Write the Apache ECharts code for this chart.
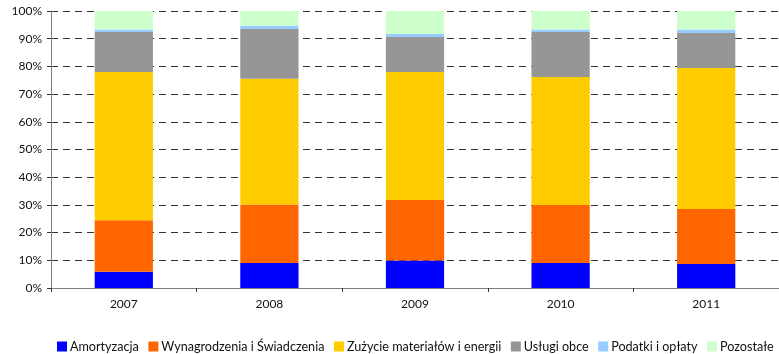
<!DOCTYPE html>
<html>
<head>
<meta charset="utf-8">
<script src="https://cdn.jsdelivr.net/npm/echarts@6/dist/echarts.min.js"></script>
<style>
  html, body { margin: 0; padding: 0; background: #fff; }
  #chart { width: 779px; height: 354px; }
</style>
</head>
<body>
<div id="chart"></div>
<script>
// Cost structure by year (percent of total)
const years = ['2007', '2008', '2009', '2010', '2011'];
const amortyzacja = [5.9, 9.0, 9.9, 9.0, 8.7];
const wynagrodzenia = [18.6, 21.1, 21.9, 21.0, 19.8];
const zuzycie = [53.5, 45.4, 46.2, 46.2, 50.9];
const uslugi = [14.4, 18.0, 12.6, 16.2, 12.7];
const podatki = [0.9, 1.2, 1.1, 0.9, 1.2];
const pozostale = [6.7, 5.3, 8.3, 6.7, 6.7];

const seriesNames = ['Amortyzacja', 'Wynagrodzenia i Świadczenia', 'Zużycie materiałów i energii', 'Usługi obce', 'Podatki i opłaty', 'Pozostałe'];
const seriesData = [amortyzacja, wynagrodzenia, zuzycie, uslugi, podatki, pozostale];
const colors = ['#0000FF', '#FF6600', '#FFCC00', '#969696', '#99CCFF', '#CCFFCC'];

const font = 'Lato, "Open Sans", sans-serif';
const chart = echarts.init(document.getElementById('chart'), null, { renderer: 'canvas' });
chart.setOption({
  animation: false,
  color: colors,
  textStyle: { fontFamily: font },
  grid: { left: 51, top: 11, width: 735, height: 277, containLabel: false },
  legend: {
    bottom: 1,
    left: 57,
    width: 760,
    padding: 0,
    icon: 'rect',
    itemWidth: 10,
    itemHeight: 10,
    itemGap: 9.5,
    textStyle: { fontFamily: font, fontSize: 12.6, color: '#111', padding: [0, 0, 0, -2] },
    data: seriesNames
  },
  xAxis: {
    type: 'category',
    data: years,
    axisLine: { lineStyle: { color: '#808080', width: 1 } },
    axisTick: { show: true, alignWithLabel: false, length: 4, lineStyle: { color: '#333' } },
    axisLabel: { color: '#111', fontSize: 12, margin: 10, fontFamily: font }
  },
  yAxis: {
    type: 'value',
    min: 0,
    max: 100,
    interval: 10,
    axisLine: { show: true, lineStyle: { color: '#808080', width: 1 } },
    axisTick: { show: true, length: 4, lineStyle: { color: '#333' } },
    axisLabel: { formatter: '{value}%', color: '#111', fontSize: 12, margin: 9, fontFamily: font },
    splitLine: { show: true, lineStyle: { color: '#333', type: [7, 5], width: 1 } }
  },
  series: seriesNames.map((name, i) => ({
    name: name,
    type: 'bar',
    stack: 'total',
    barWidth: '40%',
    data: seriesData[i],
    itemStyle: { color: colors[i] }
  }))
});
</script>
</body>
</html>
